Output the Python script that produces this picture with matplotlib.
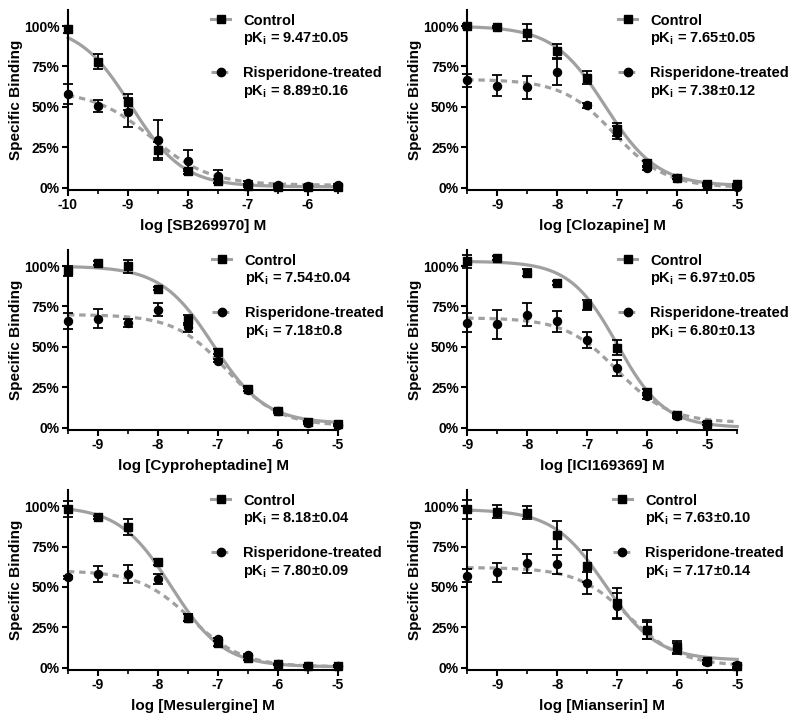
import numpy as np
import matplotlib
matplotlib.use("Agg")
import matplotlib.pyplot as plt
from matplotlib.lines import Line2D

plt.rcParams['font.family'] = ['Liberation Sans', 'DejaVu Sans']
plt.rcParams['font.weight'] = 'bold'
plt.rcParams['mathtext.fontset'] = 'custom'
plt.rcParams['mathtext.rm'] = 'Liberation Sans:bold'
plt.rcParams['mathtext.bf'] = 'Liberation Sans:bold'

# drugs and x ranges
drugs = ["SB269970", "Clozapine", "Cyproheptadine", "ICI169369", "Mesulergine", "Mianserin"]
xlims = [(-10, -5.5), (-9.5, -5), (-9.5, -5), (-9, -4.5), (-9.5, -5), (-9.5, -5)]
xticks = [[-10, -9, -8, -7, -6], [-9, -8, -7, -6, -5], [-9, -8, -7, -6, -5],
          [-9, -8, -7, -6, -5], [-9, -8, -7, -6, -5], [-9, -8, -7, -6, -5]]
log_conc = [
    [-10, -9.5, -9, -8.5, -8, -7.5, -7, -6.5, -6, -5.5],
    [-9.5, -9, -8.5, -8, -7.5, -7, -6.5, -6, -5.5, -5],
    [-9.5, -9, -8.5, -8, -7.5, -7, -6.5, -6, -5.5, -5],
    [-9, -8.5, -8, -7.5, -7, -6.5, -6, -5.5, -5],
    [-9.5, -9, -8.5, -8, -7.5, -7, -6.5, -6, -5.5, -5],
    [-9.5, -9, -8.5, -8, -7.5, -7, -6.5, -6, -5.5, -5],
]

# control (% specific binding, mean and error)
ctrl = [
    [98, 78, 53, 23, 10, 4, 1, 0.5, 0.5, 0.5],
    [100, 99.5, 96, 84.5, 68, 36, 15, 6, 2.5, 2],
    [97, 102, 100, 86, 66.5, 47, 24, 10.5, 3.5, 2],
    [103, 105, 96, 89.5, 76, 49.5, 22, 8, 2.5],
    [98, 93, 87, 65.5, 31, 15, 6, 2, 1, 1],
    [98, 96.5, 96, 82, 63, 40, 23.5, 12.5, 4, 1],
]
ctrl_err = [
    [2, 4.5, 5, 5, 1.5, 1, 0.5, 0.5, 0.5, 0.5],
    [1, 0.5, 5, 4.5, 4, 4, 1.5, 1, 0.5, 0.5],
    [3, 1, 4, 1, 3, 1.5, 1.5, 1, 0.5, 0.5],
    [4, 1, 2, 1, 3, 4.5, 2, 1, 1],
    [5, 1, 5, 2, 2, 1.5, 1, 0.5, 0.5, 0.5],
    [6, 4, 4, 8.5, 10, 9, 6, 4, 1, 1],
]

# risperidone-treated
risp = [
    [58, 50.5, 46.5, 29.5, 16.5, 7, 3, 1.5, 1, 1.5],
    [66.5, 63, 62, 71.5, 51, 34, 12, 6, 1.5, 0.5],
    [66, 67.5, 65, 73, 62, 41.5, 23.5, 10, 3, 1.5],
    [65, 64, 70, 66, 54, 37, 19.5, 7, 2.5],
    [56, 58, 58, 55, 31, 17.5, 7.5, 2, 1, 1],
    [57, 59, 64.5, 64, 52.5, 38, 23, 12, 3.5, 1.5],
]
risp_err = [
    [6, 4, 9, 12.5, 6.5, 4, 1, 0.5, 0.5, 0.5],
    [4, 6.5, 7, 8, 1.5, 4, 1, 1, 0.5, 0.5],
    [5, 6, 2.5, 4, 3, 1, 1, 1, 0.5, 0.5],
    [6, 9, 7, 6.5, 5, 5, 2, 1, 1],
    [1, 5, 5.5, 3, 2, 1, 1, 0.5, 0.5, 0.5],
    [4, 6, 6, 6, 7, 8, 5, 3, 1, 1],
]

# fitted curve parameters: top, bottom, logIC50, hill
ctrl_fit = [(101, 0.5, -8.95, 1.0), (100, 1, -7.2, 1.0), (100, 2.5, -7.08, 1.0),
            (103, 0, -6.5, 1.1), (100, 0.5, -7.78, 1.0), (98, 4.5, -7.2, 1.0)]
risp_fit = [(60, 1.5, -8.6, 0.9), (67, 0, -7.05, 1.0), (70, 1, -6.85, 1.0),
            (68, 3, -6.5, 1.0), (60, 0.5, -7.45, 1.0), (62, 1, -6.8, 1.0)]

ctrl_pki = ["9.47±0.05", "7.65±0.05", "7.54±0.04", "6.97±0.05", "8.18±0.04", "7.63±0.10"]
risp_pki = ["8.89±0.16", "7.38±0.12", "7.18±0.8", "6.80±0.13", "7.80±0.09", "7.17±0.14"]
legend_x = [0.53, 0.56, 0.535, 0.56, 0.53, 0.54]

gray = '#a0a0a0'


def curve(x, top, bottom, logic50, hill):
    return bottom + (top - bottom) / (1 + 10 ** ((x - logic50) * hill))


fig = plt.figure(figsize=(8, 7.21), dpi=100)
lefts = [0.085, 0.584]
bottoms = [0.7365, 0.4036, 0.0707]

for i in range(6):
    ax = fig.add_axes([lefts[i % 2], bottoms[i // 2], 0.3375, 0.2497])
    x = np.array(log_conc[i])
    xs = np.linspace(xlims[i][0], xlims[i][1], 300)

    ax.plot(xs, curve(xs, *ctrl_fit[i]), color=gray, lw=2.3, zorder=2, clip_on=False)
    ax.plot(xs, curve(xs, *risp_fit[i]), color=gray, lw=2.3, ls=(0, (2.0, 1.5)), zorder=2, clip_on=False)

    ax.errorbar(x, ctrl[i], yerr=ctrl_err[i], fmt='s', color='black', ms=5.8,
                capsize=3.5, elinewidth=1.3, capthick=1.3, zorder=4, clip_on=False)
    ax.errorbar(x, risp[i], yerr=risp_err[i], fmt='o', color='black', ms=5.8,
                capsize=3.5, elinewidth=1.3, capthick=1.3, zorder=4, clip_on=False)

    ax.set_xlim(*xlims[i])
    ax.set_ylim(-1.5, 110)
    ax.set_xticks(xticks[i])
    ax.set_xticklabels([str(t) for t in xticks[i]])
    ax.set_xticks(np.arange(xlims[i][0], xlims[i][1] + 0.01, 0.5), minor=True)
    ax.set_yticks([0, 25, 50, 75, 100])
    ax.set_yticklabels(['0%', '25%', '50%', '75%', '100%'])
    for s in ['top', 'right']:
        ax.spines[s].set_visible(False)
    for s in ['left', 'bottom']:
        ax.spines[s].set_linewidth(1.5)
    ax.tick_params(width=1.5, length=4, labelsize=10, pad=2)
    ax.tick_params(which='minor', width=1.2, length=3)
    ax.set_xlabel("log [" + drugs[i] + "] M", fontsize=11, fontweight='bold', labelpad=5)
    ax.set_ylabel("Specific Binding", fontsize=11, fontweight='bold', labelpad=1)

    h_ctrl = Line2D([], [], color=gray, lw=2.2, marker='s', mfc='black', mec='black', ms=6)
    h_risp = Line2D([], [], color=gray, lw=2.2, ls=(0, (2.0, 1.5)), marker='o', mfc='black', mec='black', ms=6)
    blank = Line2D([], [], ls='none')
    leg = ax.legend([h_ctrl, blank, blank, h_risp, blank],
                    ["Control", r"pK$_\mathbf{i}$ = " + ctrl_pki[i], "",
                     "Risperidone-treated", r"pK$_\mathbf{i}$ = " + risp_pki[i]],
                    loc='upper left', bbox_to_anchor=(legend_x[i], 0.98), frameon=False,
                    borderpad=0, borderaxespad=0, handlelength=1.3, handletextpad=0.9,
                    labelspacing=0.18, prop={'size': 10.5, 'weight': 'bold'})
    leg.set_clip_on(False)

fig.savefig("out.png", dpi=100)
